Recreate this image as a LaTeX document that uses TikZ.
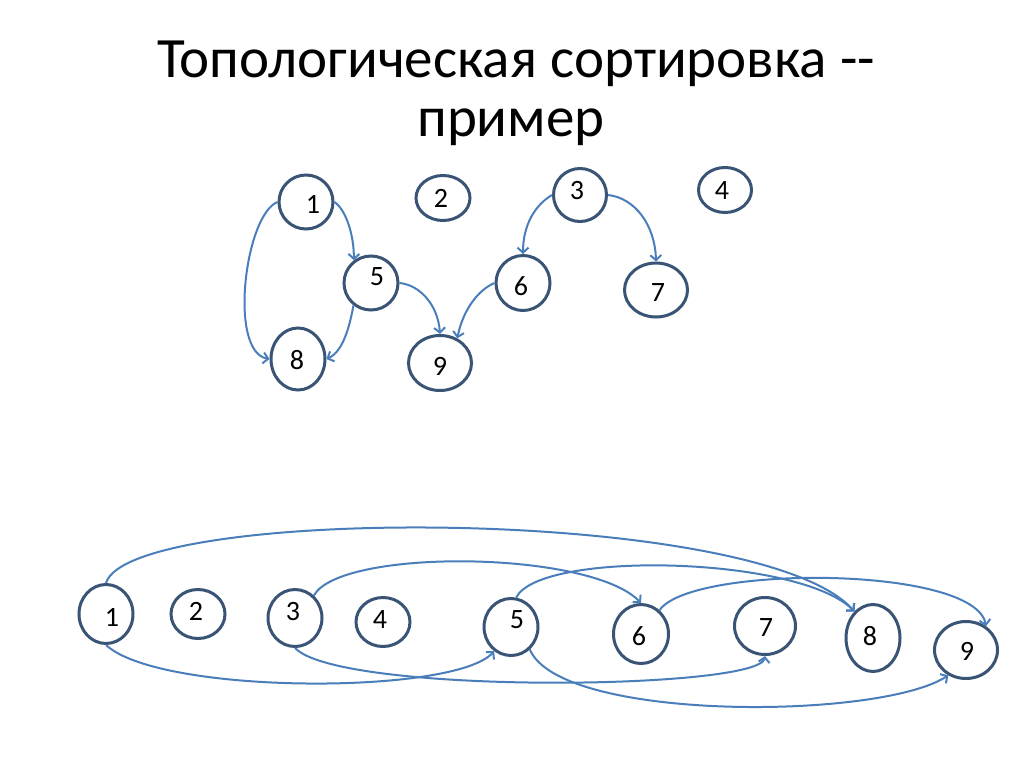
\documentclass[tikz,border=0pt]{standalone}
\usepackage{fontspec}
\setmainfont{Carlito}
\usetikzlibrary{shapes.geometric,arrows.meta}
\definecolor{edgeblue}{HTML}{4A7EBB}
\definecolor{nodeblue}{HTML}{3A5475}
\newcommand{\vtx}[5]{\node[vert, minimum width=#4pt, minimum height=#5pt] (#1) at (#2,#3) {};}
\begin{document}
\begin{tikzpicture}[x=1pt,y=1pt,
 vert/.style={ellipse, draw=nodeblue, line width=3pt, fill=white, inner sep=0pt},
 num/.style={inner sep=0pt, font=\fontsize{28}{28}\selectfont},
 conn/.style={draw=edgeblue, line width=2pt, -{Straight Barb[length=5pt,width=11pt]}},
 ttl/.style={anchor=base, inner sep=0pt, font=\fontsize{57}{57}\selectfont}]
\useasboundingbox (0,0) rectangle (1024,-767);
\fill[white] (0,0) rectangle (1024,-767);
% title
\node[ttl] (title1) at (516,-78) {Топологическая сортировка -\kern0pt-};
\node[ttl] (title2) at (511,-137) {пример};
% top graph
\vtx{t1}{306}{-202}{54}{54}
\vtx{t2}{443}{-198}{54}{45}
\vtx{t3}{580}{-195}{53}{53}
\vtx{t4}{725}{-190}{53}{45}
\vtx{t5}{371}{-283}{54}{54}
\vtx{t6}{523}{-283}{54}{55}
\vtx{t7}{656}{-290}{63}{54}
\vtx{t8}{298}{-359}{54}{62}
\vtx{t9}{440}{-363}{63}{55}
\node[num] (lt1) at (313,-204) {1};
\node[num] (lt2) at (441,-198) {2};
\node[num] (lt3) at (577,-191) {3};
\node[num] (lt4) at (722,-191) {4};
\node[num] (lt5) at (377,-277) {5};
\node[num] (lt6) at (521,-286) {6};
\node[num] (lt7) at (658,-293) {7};
\node[num] (lt8) at (297,-360) {8};
\node[num] (lt9) at (440,-366) {9};
\draw[conn] (t1.east) .. controls (346,-210) and (354,-235) .. (t5.127);
\draw[conn] (t1.west) .. controls (245,-215) and (228,-352) .. (t8.west);
\draw[conn] (t5.-128) .. controls (349,-330) and (342,-352) .. (t8.east);
\draw[conn] (t5.east) .. controls (420,-285) and (438,-305) .. (t9.north);
\draw[conn] (t6.west) .. controls (478,-290) and (463,-310) .. (t9.55);
\draw[conn] (t3.west) .. controls (535,-205) and (523,-225) .. (t6.north);
\draw[conn] (t3.east) .. controls (635,-198) and (655,-225) .. (t7.north);
% bottom row
\vtx{b1}{106}{-614}{54}{59}
\vtx{b2}{198}{-614}{54}{49}
\vtx{b3}{295}{-618}{54}{57}
\vtx{b4}{383}{-622}{54}{49}
\vtx{b5}{511}{-627}{54}{57}
\vtx{b6}{641}{-634}{55}{59}
\vtx{b7}{765}{-626}{61}{57}
\vtx{b8}{873}{-638}{54}{67}
\vtx{b9}{966}{-650}{63}{57}
\node[num] (lb1) at (112,-617) {1};
\node[num] (lb2) at (196,-611) {2};
\node[num] (lb3) at (293,-612) {3};
\node[num] (lb4) at (380,-620) {4};
\node[num] (lb5) at (517,-620) {5};
\node[num] (lb6) at (639,-636) {6};
\node[num] (lb7) at (766,-628) {7};
\node[num] (lb8) at (870,-636) {8};
\node[num] (lb9) at (967,-651) {9};
\draw[conn] (b1.south) .. controls (160,-695) and (455,-695) .. (b5.235);
\draw[conn] (b1.north) .. controls (130,-505) and (760,-505) .. (b8.125);
\draw[conn] (b3.50) .. controls (340,-548) and (590,-550) .. (b6.north);
\draw[conn] (b3.south) .. controls (340,-695) and (760,-690) .. (b7.south);
\draw[conn] (b5.80) .. controls (540,-550) and (800,-556) .. (b8.125);
\draw[conn] (b5.-50) .. controls (560,-722) and (880,-720) .. (b9.235);
\draw[conn] (b6.52) .. controls (690,-565) and (975,-565) .. (b9.50);
\end{tikzpicture}
\end{document}
